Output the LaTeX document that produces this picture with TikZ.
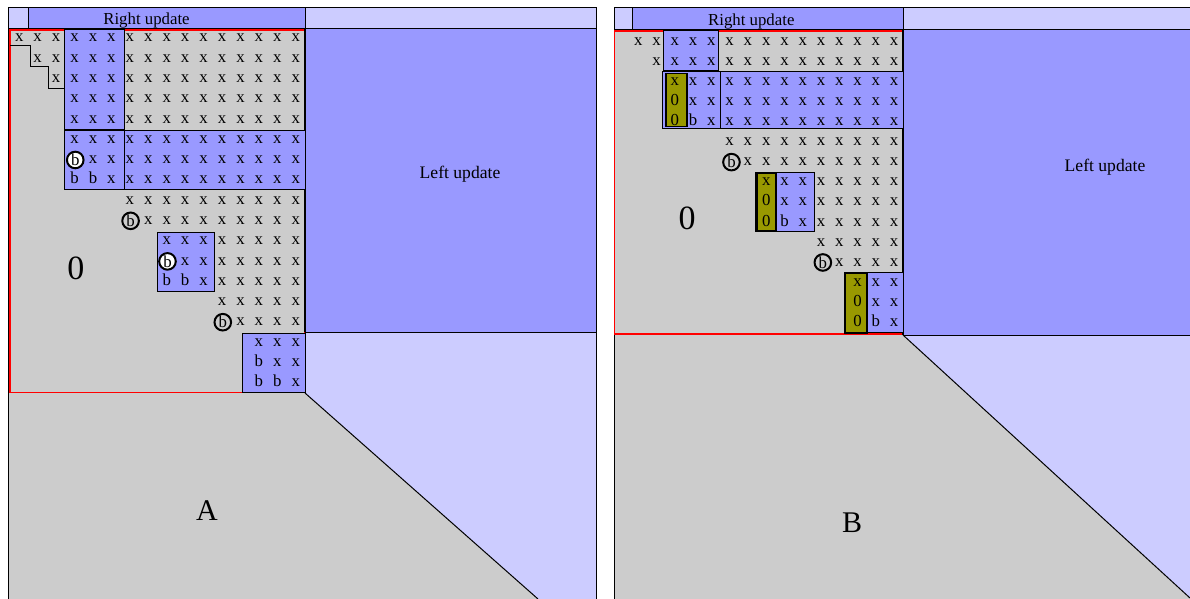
\documentclass[tikz,border=0pt]{standalone}
\usepackage{fontspec}
\setmainfont{Liberation Serif}
\definecolor{gr}{HTML}{CCCCCC}
\definecolor{bl}{HTML}{9999FF}
\definecolor{lv}{HTML}{CCCCFF}
\definecolor{ol}{HTML}{999900}
\begin{document}
\begin{tikzpicture}[x=0.5pt,y=-0.5pt,
  ch/.style={font=\fontsize{8.4}{10}\selectfont, inner sep=0pt, anchor=base},
  cbw/.style={circle, draw=black, fill=white, line width=1pt, inner sep=0pt, minimum size=8.3pt, font=\fontsize{8.4}{10}\selectfont},
  cbg/.style={circle, draw=black, line width=1pt, inner sep=0pt, minimum size=8.3pt, font=\fontsize{8.4}{10}\selectfont},
  blk/.style={fill=bl, draw=black, line width=0.5pt},
  olv/.style={fill=ol, draw=black, line width=0.8pt},
  ln/.style={draw=black, line width=0.5pt},
  redbox/.style={draw=red, line width=0.8pt},
  lab/.style={font=\fontsize{8.4}{10}\selectfont, inner sep=0pt, anchor=base},
  labL/.style={font=\fontsize{8.8}{10}\selectfont, inner sep=0pt, anchor=base},
  big/.style={font=\fontsize{17}{20}\selectfont, inner sep=0pt},
  panelname/.style={font=\fontsize{15}{18}\selectfont, inner sep=0pt}]
\useasboundingbox (0,0) rectangle (1190,599);
\fill[white] (0,0) rectangle (1190,599);

% ================= LEFT PANEL =================
\fill[gr] (8,29) rectangle (596,599);
\fill[lv] (305,332) -- (596,332) -- (596,599) -- (538,599) -- (305,393) -- cycle;
\fill[bl] (305,29) rectangle (596,332);
\draw[ln, fill=lv] (8,8) rectangle (28,29);
\draw[ln, fill=bl] (28,8) rectangle (305,29);
\draw[ln, fill=lv] (305,8) rectangle (596,29);
\draw[ln] (8,8) -- (8,599);
\draw[ln] (596,8) -- (596,599);
\draw[redbox] (10,30) rectangle (305,392.5);
\draw[ln, line width=0.8pt] (305,29) -- (305,332);
\draw[ln] (305,332) -- (596,332);
\draw[ln] (305,393) -- (538,599);
\draw[blk] (64,30) rectangle (124,130);
\draw[blk] (64,131) rectangle (124,190);
\draw[blk] (124,131) rectangle (305,190);
\draw[blk] (157,233) rectangle (214,291);
\draw[blk] (242,333) rectangle (305,392);
\draw[ln] (10,45.7) -- (30,45.7) -- (30,66.7) -- (48.3,66.7) -- (48.3,88.3) -- (64,88.3) -- (64,30);

\foreach \r/\s in {1/1,2/2,3/3,4/4,5/4,6/4,7/5,8/6,9/7,10/8,11/9,12/10,13/11,14/12,15/13,16/14,17/15,18/16}{
  \foreach \k in {\s,...,16}{
    \node[ch] (Lx-\r-\k) at ({0.78+18.44*\k},{42+(\r-1)*20.28}) {x};
  }
}
\foreach \r/\k in {8/4,8/5,13/9,13/10,17/14,18/14,18/15}{
  \node[ch] (Lb-\r-\k) at ({0.78+18.44*\k},{42+(\r-1)*20.28}) {b};
}
\foreach \r/\k in {7/4,12/9}{
  \node[cbw] (Lcw-\r-\k) at ({1.5+18.44*\k},{38.3+(\r-1)*20.28}) {b};
}
\foreach \r/\k in {10/7,15/12}{
  \node[cbg] (Lcg-\r-\k) at ({1.5+18.44*\k},{38.3+(\r-1)*20.28}) {b};
}
\node[lab] (ruA) at (146.5,25) {Right update};
\node[labL] (luA) at (460,179) {Left update};
\node[big] (zA) at (76,268) {0};
\node[panelname] (A) at (207,511) {A};

% ================= RIGHT PANEL =================
\fill[gr] (614,30) rectangle (1190,599);
\fill[lv] (903,335) -- (1190,335) -- (1190,598) -- cycle;
\fill[bl] (903,30) rectangle (1190,335);
\draw[ln, fill=lv] (614,8) rectangle (632,30);
\draw[ln, fill=bl] (632,8) rectangle (903,30);
\draw[ln, fill=lv] (903,8) rectangle (1190,30);
\draw[ln] (614,8) -- (614,599);
\draw[redbox] (614.5,31) rectangle (903,334);
\draw[ln, line width=0.8pt] (903,30) -- (903,335);
\draw[ln] (903,335) -- (1190,335);
\draw[ln] (903,335) -- (1190,598);
\draw[blk] (663,31) rectangle (718,71);
\draw[blk] (662,72) rectangle (720,129);
\draw[blk] (720,72) rectangle (903,129);
\draw[olv] (665.7,73.5) rectangle (686.7,126.5);
\draw[blk] (755,172.3) rectangle (814.3,231.7);
\draw[olv] (756.7,173.5) rectangle (775.7,230.5);
\draw[blk] (866.7,272.7) rectangle (903,332.7);
\draw[olv, line width=1.2pt] (845,272.7) rectangle (866.7,332.7);

\foreach \r/\s in {1/2,2/3,3/4,4/5,5/6,6/7,7/8,8/9,9/10,10/11,11/12,12/13,13/14,14/15,15/16}{
  \foreach \k in {\s,...,16}{
    \node[ch] (Rx-\r-\k) at ({601.7+18.28*\k},{45.4+(\r-1)*20.07}) {x};
  }
}
\foreach \r/\k in {4/4,5/4,9/9,10/9,14/14,15/14}{
  \node[ch] (R0-\r-\k) at ({601.7+18.28*\k},{45.4+(\r-1)*20.07}) {0};
}
\foreach \r/\k in {5/5,10/10,15/15}{
  \node[ch] (Rb-\r-\k) at ({601.7+18.28*\k},{45.4+(\r-1)*20.07}) {b};
}
\foreach \r/\k in {7/7,12/12}{
  \node[cbg] (Rcg-\r-\k) at ({603.5+18.28*\k},{41.7+(\r-1)*20.07}) {b};
}
\node[lab] (ruB) at (751.3,26) {Right update};
\node[labL] (luB) at (1105,172) {Left update};
\node[big] (zB) at (687,218) {0};
\node[panelname] (B) at (852,523) {B};
\end{tikzpicture}
\end{document}
